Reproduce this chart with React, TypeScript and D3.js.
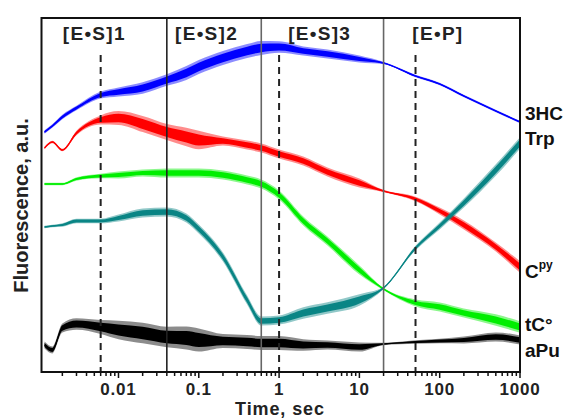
import React from 'react';
import * as d3 from 'd3';

// time points (sec) the traces were read at
const times = [0.0012, 0.0015, 0.002, 0.003, 0.006, 0.01, 0.02, 0.04, 0.07, 0.1, 0.2, 0.4, 0.6, 1, 2, 4, 10, 20, 50, 100, 200, 500, 1000];

// fluorescence, a.u. (offset traces) and the half-width of the noise band
const hc3 = [240, 246, 255, 264, 277, 280, 284, 292, 299, 305, 314, 321, 324, 325, 321, 318, 313, 309, 296, 288, 276, 261, 250];
const hc3Noise = [1.5, 1.5, 2, 2, 3, 4, 5, 5, 6, 6, 6, 6, 6, 5, 4, 4, 3, 1, 1, 1, 1, 1, 1];

const trp = [145, 146, 147, 151, 151, 154, 159, 160, 154, 143, 115, 72, 51, 52, 59, 64, 72, 84, 124, 146, 169, 202, 229];
const trpNoise = [1, 1, 1.5, 2, 2, 3, 4, 4, 4, 4, 4, 4, 4, 4, 5, 5, 5, 1, 2, 3, 4, 5, 5];

const cpy = [224, 230, 222, 239, 252, 254, 248, 240, 235, 232, 231, 227, 224, 218, 211, 200, 189, 181, 173, 161, 147, 125, 105];
const cpyNoise = [1, 1, 1, 2, 4, 6, 7, 7, 8, 8, 4, 4, 4, 4, 4, 4, 4, 1, 2, 3, 4, 4, 5];

const tco = [188, 188, 188, 193, 196, 197, 199, 199, 199, 199, 197, 192, 188, 177, 151, 131, 102, 83, 69, 65, 59, 52, 45];
const tcoNoise = [1, 1, 1, 1.5, 2, 3, 3, 4, 4, 4, 4, 4, 4, 4, 4, 4, 4, 1, 3, 4, 4, 5, 5];

const apu = [27, 22, 44, 48, 45, 42, 39, 35, 34, 32, 31, 30, 29, 29, 27, 27, 25, 28, 30, 31, 32, 35, 32];
const apuNoise = [3, 3, 4, 5, 6, 8, 9, 9, 10, 10, 6, 6, 6, 6, 5, 4, 4, 1, 1.5, 2, 3, 4, 4];

const phaseLabels = ['[E•S]1', '[E•S]2', '[E•S]3', '[E•P]'];
const phaseLabelTimes = [0.005, 0.125, 3.2, 95];
const phaseBounds = [0.04, 0.6, 20];
const midPoints = [0.006, 1, 50];
const tickLabels = ['0.01', '0.1', '1', '10', '100', '1000'];

const W = 563;
const H = 419;
const m = { left: 41.5, right: 520, top: 18, bottom: 372 };
const font = '"Liberation Sans", Arial, sans-serif';

const x = d3.scaleLog().domain([0.0011, 1000]).range([m.left, m.right]);
const y = d3.scaleLinear().domain([0, 354]).range([m.bottom, m.top]);

const series = [
  { vals: cpy, noise: cpyNoise, color: '#ff0000' },
  { vals: tco, noise: tcoNoise, color: '#00ee00' },
  { vals: trp, noise: trpNoise, color: '#0a8585' },
  { vals: hc3, noise: hc3Noise, color: '#0000ff' },
  { vals: apu, noise: apuNoise, color: '#000000' },
];

const line = d3.line<number>()
  .x((_, i) => x(times[i]))
  .y(d => y(d))
  .curve(d3.curveMonotoneX);

// noise envelope, scaled by k (outer haze vs dense core)
const bandPath = (vals: number[], noise: number[], k: number) =>
  d3.area<number>()
    .x((_, i) => x(times[i]))
    .y0((d, i) => y(d - noise[i] * k))
    .y1((d, i) => y(d + noise[i] * k))
    .curve(d3.curveMonotoneX)(vals) || '';

export default function App() {
  const ticks = x.ticks();
  const isMajor = (t: number) => Math.abs(Math.log10(t) - Math.round(Math.log10(t))) < 1e-6;

  return (
    <svg width={W} height={H} style={{ position: 'absolute', left: 0, top: 0, background: '#fff' }}
      fontFamily={font} fontWeight="bold">
      {series.map((s, k) => (
        <g key={k}>
          <path d={bandPath(s.vals, s.noise, 1.15)} fill={s.color} opacity={0.45} />
          <path d={bandPath(s.vals, s.noise, 0.7)} fill={s.color} />
          <path d={line(s.vals) || ''} fill="none" stroke={s.color} strokeWidth={1.2} />
        </g>
      ))}

      {phaseBounds.map((t, i) => (
        <line key={'b' + i} x1={x(t)} x2={x(t)} y1={m.top} y2={m.bottom}
          stroke={i === 0 ? '#222' : '#666'} strokeWidth={1.6} />
      ))}
      {midPoints.map((t, i) => (
        <line key={'d' + i} x1={x(t)} x2={x(t)} y1={55} y2={m.bottom}
          stroke="#222" strokeWidth={2} strokeDasharray="7,5" />
      ))}

      <rect x={m.left} y={m.top} width={m.right - m.left} height={m.bottom - m.top}
        fill="none" stroke="#111" strokeWidth={2} />

      {ticks.map((t, i) => (
        <line key={'t' + i} x1={x(t)} x2={x(t)} y1={m.bottom} y2={m.bottom + (isMajor(t) ? 6 : 4)}
          stroke="#111" strokeWidth={1.5} />
      ))}
      {tickLabels.map((l, i) => (
        <text key={'l' + i} x={x(+l)} y={395} textAnchor="middle" fontSize={17}
          letterSpacing={0.8} fill="#222">{l}</text>
      ))}
      <text x={280} y={415} textAnchor="middle" fontSize={18} letterSpacing={0.9} fill="#222">Time, sec</text>
      <text transform="translate(28,205.5) rotate(-90)" textAnchor="middle" fontSize={20} fill="#222">
        Fluorescence, a.u.
      </text>

      {phaseLabels.map((l, i) => (
        <text key={'p' + i} x={x(phaseLabelTimes[i])} y={40} textAnchor="middle" fontSize={19}
          letterSpacing={1.3} fill="#222">{l}</text>
      ))}

      <g fontSize={19} fill="#111">
        <text x={525} y={120}>3HC</text>
        <text x={525} y={145}>Trp</text>
        <text x={525} y={278}>C<tspan fontSize={12} dy={-9}>py</tspan></text>
        <text x={525} y={331}>tC°</text>
        <text x={525} y={357}>aPu</text>
      </g>
    </svg>
  );
}
